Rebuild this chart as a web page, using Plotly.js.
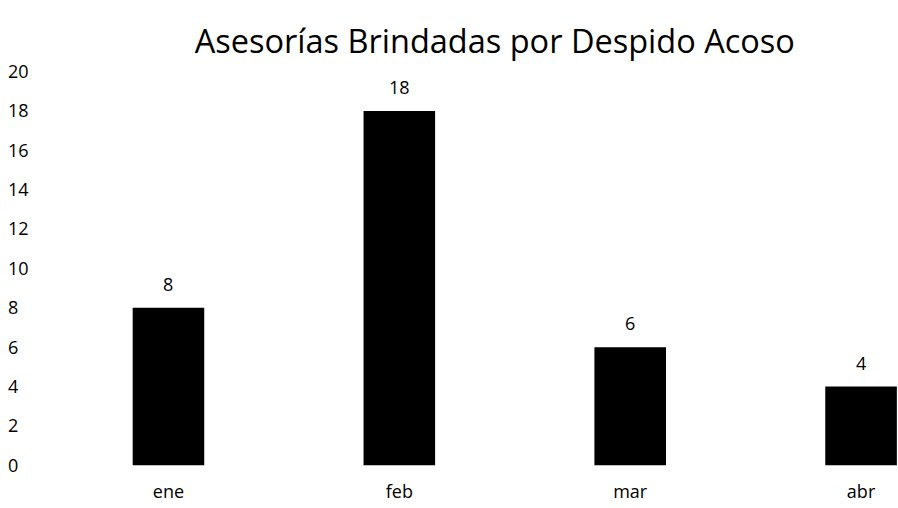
<!DOCTYPE html>
<html>
<head>
<meta charset="utf-8">
<script src="https://cdn.plot.ly/plotly-3.0.1.min.js"></script>
<style>html,body{margin:0;padding:0;background:#fff;}#chart{width:898px;height:508px;}</style>
</head>
<body>
<div id="chart"></div>
<script>
const categories = ["ene", "feb", "mar", "abr"];
const values = [8, 18, 6, 4];
const yTicks = [0, 2, 4, 6, 8, 10, 12, 14, 16, 18, 20];
const chartTitle = "Asesorías Brindadas por Despido Acoso";

const FONT = "'Open Sans', Lato, sans-serif";

const trace = {
  type: "bar",
  x: categories,
  y: values,
  width: 0.31,
  marker: {color: "#000000", line: {width: 0}},
  hoverinfo: "x+y"
};

const annotations = categories.map((c, i) => ({
  x: c, y: values[i], xref: "x", yref: "y",
  text: String(values[i]), showarrow: false,
  yshift: 24, font: {family: FONT, size: 18, color: "#000"}
}));

const layout = {
  width: 898, height: 508,
  paper_bgcolor: "#fff", plot_bgcolor: "#fff",
  margin: {l: 5, r: 0, t: 58, b: 29},
  showlegend: false,
  title: {
    text: chartTitle,
    font: {family: FONT, size: 32.5, color: "#000"},
    x: 0.551, xref: "container", xanchor: "center",
    y: 0.918, yref: "container", yanchor: "middle"
  },
  xaxis: {
    type: "category",
    range: [-0.708, 3.16],
    showgrid: false, zeroline: false, showline: false, ticks: "",
    tickfont: {family: FONT, size: 18, color: "#000"}
  },
  yaxis: {
    range: [-0.7, 20.7],
    tickvals: yTicks,
    ticktext: yTicks.map(String),
    ticklabelposition: "inside",
    showgrid: false, zeroline: false, showline: false, ticks: "",
    tickfont: {family: FONT, size: 18, color: "#000"}
  },
  annotations: annotations
};

Plotly.newPlot("chart", [trace], layout, {displayModeBar: false, staticPlot: true});
</script>
</body>
</html>
